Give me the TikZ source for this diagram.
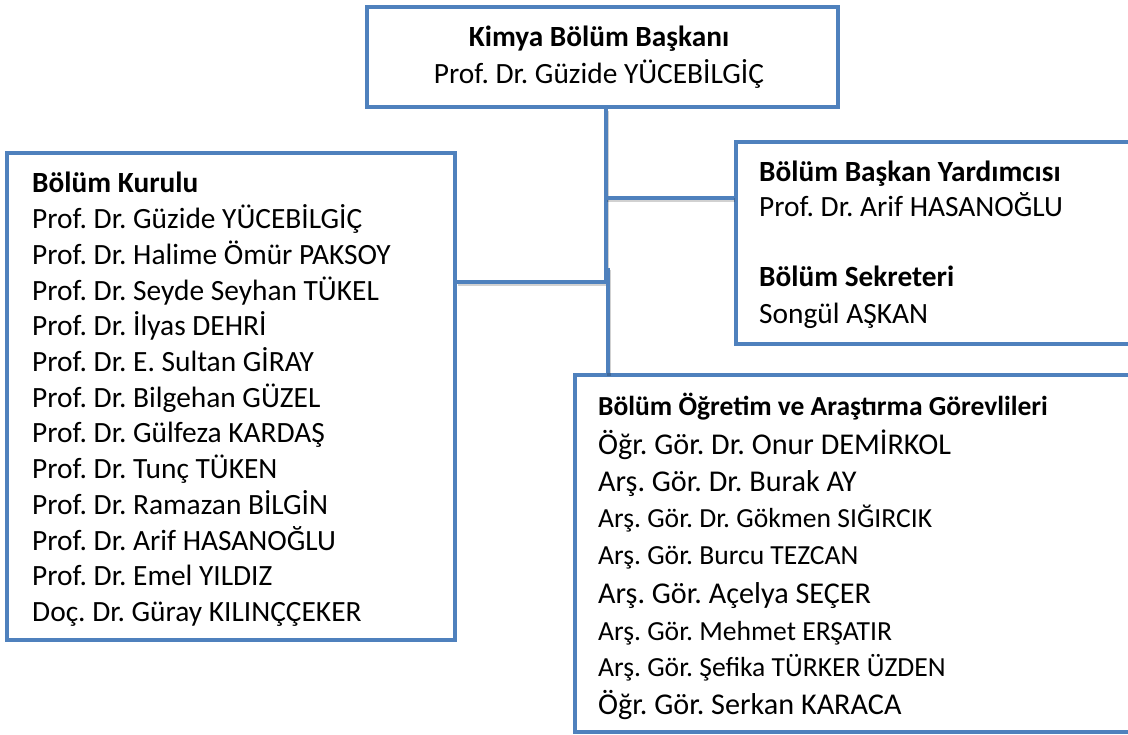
\documentclass[tikz,border=0pt]{standalone}
\usepackage{fontspec}
\setmainfont{Carlito}
\definecolor{boxblue}{HTML}{4F81BD}
\begin{document}
\frenchspacing
\begin{tikzpicture}[x=1pt,y=-1pt,
  box/.style={draw=boxblue,line width=4pt,rectangle,inner sep=0pt,fill=white},
  conn/.style={draw=boxblue,line width=4pt,
    preaction={draw=black,opacity=.18,line width=4pt,transform canvas={yshift=-2.5pt,xshift=1pt}}},
  txt/.style={anchor=base west,inner sep=0pt,font=\fontsize{29.4}{35}\selectfont},
  btxt/.style={anchor=base west,inner sep=0pt,font=\fontsize{29.3}{35}\selectfont\bfseries},
  ctxt/.style={anchor=base,inner sep=0pt,font=\fontsize{29.4}{35}\selectfont},
  big/.style={anchor=base west,inner sep=0pt,font=\fontsize{30.2}{36}\selectfont},
  small/.style={anchor=base west,inner sep=0pt,font=\fontsize{27.6}{33}\selectfont}]
\useasboundingbox (0,0) rectangle (1128,735);
\fill[white] (0,0) rectangle (1128,735);

% boxes
\node[box,minimum width=471pt,minimum height=100pt] (top) at (602.5,57) {};
\node[box,minimum width=448pt,minimum height=487pt] (left) at (231,396.5) {};
\node[box,minimum width=424pt,minimum height=202pt] (right) at (948,243) {};
\node[box,minimum width=585pt,minimum height=356.5pt] (bottom) at (867.5,553.75) {};

% connectors
\coordinate (j1) at (606,282);
\coordinate (j2) at (606,198);
\coordinate (j3) at (608,268);
\draw[conn] (top.south -| j1) -- (j1);
\draw[conn] (j2) -- (j2 -| right.west);
\draw[conn] (left.east |- j1) -- (j1);
\draw[conn] (j3) -- (j3 |- bottom.north);

% top box text
\node[ctxt,font=\fontsize{29.3}{35}\selectfont\bfseries] (t1) at (599,46.7) {Kimya Bölüm Başkanı};
\node[ctxt] (t2) at (599,83.3) {Prof. Dr. Güzide YÜCEBİLGİÇ};

% left box text
\node[btxt] (l0) at (32,193) {Bölüm Kurulu};
\node[txt] (l1) at (32,228.7) {Prof. Dr. Güzide YÜCEBİLGİÇ};
\node[txt] (l2) at (32,264.4) {Prof. Dr. Halime Ömür PAKSOY};
\node[txt] (l3) at (32,300.1) {Prof. Dr. Seyde Seyhan TÜKEL};
\node[txt] (l4) at (32,335.8) {Prof. Dr. İlyas DEHRİ};
\node[txt] (l5) at (32,371.5) {Prof. Dr. E. Sultan GİRAY};
\node[txt] (l6) at (32,407.2) {Prof. Dr. Bilgehan GÜZEL};
\node[txt] (l7) at (32,442.9) {Prof. Dr. Gülfeza KARDAŞ};
\node[txt] (l8) at (32,478.6) {Prof. Dr. Tunç TÜKEN};
\node[txt] (l9) at (32,514.3) {Prof. Dr. Ramazan BİLGİN};
\node[txt] (l10) at (32,550) {Prof. Dr. Arif HASANOĞLU};
\node[txt] (l11) at (32,585.7) {Prof. Dr. Emel YILDIZ};
\node[txt] (l12) at (32,621.4) {Doç. Dr. Güray KILINÇÇEKER};

% right box text
\node[btxt] (r1) at (759,181.5) {Bölüm Başkan Yardımcısı};
\node[txt] (r2) at (759,216.8) {Prof. Dr. Arif HASANOĞLU};
\node[btxt] (r3) at (759,287) {Bölüm Sekreteri};
\node[txt] (r4) at (759,323.5) {Songül AŞKAN};

% bottom box text
\node[btxt,font=\fontsize{27.5}{33}\selectfont\bfseries] (b0) at (598,416) {Bölüm Öğretim ve Araştırma Görevlileri};
\node[big] (b1) at (598,454) {Öğr. Gör. Dr. Onur DEMİRKOL};
\node[big] (b2) at (598,491.7) {Arş. Gör. Dr. Burak AY};
\node[small] (b3) at (598,527.7) {Arş. Gör. Dr. Gökmen SIĞIRCIK};
\node[small] (b4) at (598,564) {Arş. Gör. Burcu TEZCAN};
\node[big] (b5) at (598,603.3) {Arş. Gör. Açelya SEÇER};
\node[small] (b6) at (598,640) {Arş. Gör. Mehmet ERŞATIR};
\node[small] (b7) at (598,676) {Arş. Gör. Şefika TÜRKER ÜZDEN};
\node[big] (b8) at (598,714) {Öğr. Gör. Serkan KARACA};
\end{tikzpicture}
\end{document}
